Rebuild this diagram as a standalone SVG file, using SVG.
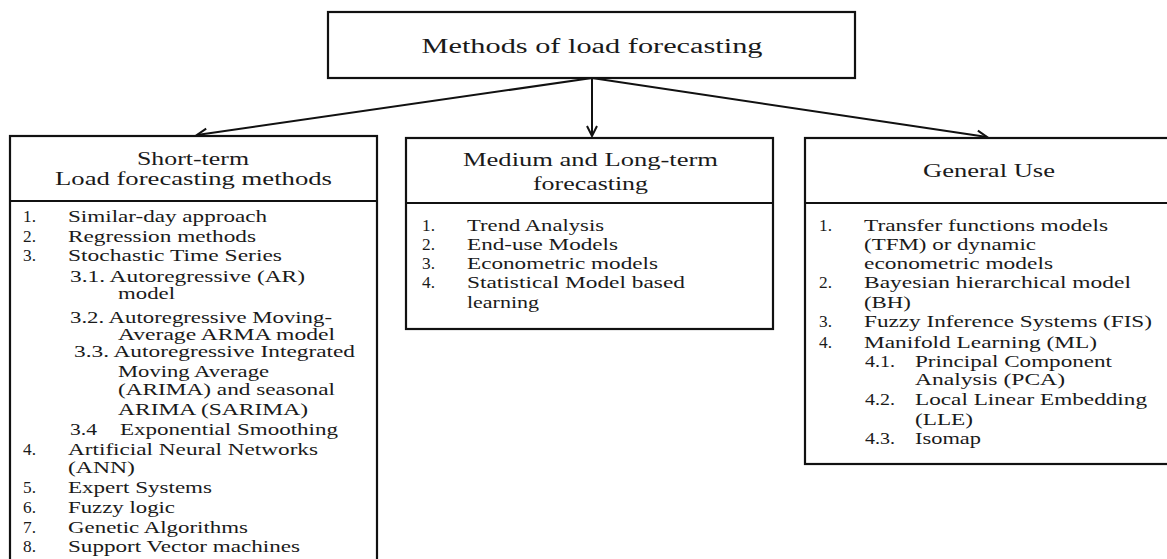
<svg xmlns="http://www.w3.org/2000/svg" width="1167" height="559" viewBox="0 0 1167 559">
<style>
.box{fill:#fff;stroke:#111;stroke-width:2.2}
.sep{stroke:#111;stroke-width:2.2}
.t{font-family:"Liberation Serif","Times New Roman",serif;fill:#1a1a1a}
.title{font-size:20px}
.hd{font-size:18px}
.li{font-size:16.8px}
.conn{stroke:#111;stroke-width:2;fill:none}
</style>
<defs>
<marker id="arr" markerUnits="userSpaceOnUse" markerWidth="14" markerHeight="14" viewBox="-12 -7 14 14" refX="0" refY="0" orient="auto">
<path d="M-10,-5 L0,0 L-10,5" fill="none" stroke="#111" stroke-width="2"/>
</marker>
</defs>
<rect width="1167" height="559" fill="#fff"/>

<g id="connectors">
<line class="conn" x1="592" y1="78" x2="592" y2="136" marker-end="url(#arr)"/>
<line class="conn" x1="592" y1="78" x2="197" y2="135" marker-end="url(#arr)"/>
<line class="conn" x1="592" y1="78" x2="987" y2="137" marker-end="url(#arr)"/>
</g>

<g id="root">
<rect class="box" x="328" y="12" width="527" height="66"/>
<text class="t title" x="592" y="53" text-anchor="middle" textLength="341" lengthAdjust="spacingAndGlyphs">Methods of load forecasting</text>
</g>

<g id="short-term">
<rect class="box" x="10" y="136" width="367" height="430"/>
<line class="sep" x1="10" y1="201" x2="377" y2="201"/>
<text class="t hd" x="193" y="165" text-anchor="middle" textLength="112" lengthAdjust="spacingAndGlyphs">Short-term</text>
<text class="t hd" x="193.5" y="185" text-anchor="middle" textLength="277" lengthAdjust="spacingAndGlyphs">Load forecasting methods</text>
<g class="t li">
<text x="23" y="222" textLength="13" lengthAdjust="spacingAndGlyphs">1.</text><text x="68" y="222" textLength="199" lengthAdjust="spacingAndGlyphs">Similar-day approach</text>
<text x="23" y="242" textLength="13" lengthAdjust="spacingAndGlyphs">2.</text><text x="68" y="242" textLength="188" lengthAdjust="spacingAndGlyphs">Regression methods</text>
<text x="23" y="261" textLength="13" lengthAdjust="spacingAndGlyphs">3.</text><text x="68" y="261" textLength="214" lengthAdjust="spacingAndGlyphs">Stochastic Time Series</text>
<text x="70" y="282" textLength="235" lengthAdjust="spacingAndGlyphs">3.1. Autoregressive (AR)</text>
<text x="118" y="299" textLength="57" lengthAdjust="spacingAndGlyphs">model</text>
<text x="70" y="323" textLength="262" lengthAdjust="spacingAndGlyphs">3.2. Autoregressive Moving-</text>
<text x="118" y="340" textLength="217" lengthAdjust="spacingAndGlyphs">Average ARMA model</text>
<text x="74" y="357" textLength="281" lengthAdjust="spacingAndGlyphs">3.3. Autoregressive Integrated</text>
<text x="118" y="377" textLength="151" lengthAdjust="spacingAndGlyphs">Moving Average</text>
<text x="118" y="395" textLength="217" lengthAdjust="spacingAndGlyphs">(ARIMA) and seasonal</text>
<text x="118" y="415" textLength="190" lengthAdjust="spacingAndGlyphs">ARIMA (SARIMA)</text>
<text x="70" y="435" textLength="27" lengthAdjust="spacingAndGlyphs">3.4</text><text x="120" y="435" textLength="218" lengthAdjust="spacingAndGlyphs">Exponential Smoothing</text>
<text x="23" y="455" textLength="13" lengthAdjust="spacingAndGlyphs">4.</text><text x="68" y="455" textLength="250" lengthAdjust="spacingAndGlyphs">Artificial Neural Networks</text>
<text x="68" y="473" textLength="67" lengthAdjust="spacingAndGlyphs">(ANN)</text>
<text x="23" y="493" textLength="13" lengthAdjust="spacingAndGlyphs">5.</text><text x="68" y="493" textLength="144" lengthAdjust="spacingAndGlyphs">Expert Systems</text>
<text x="23" y="513" textLength="13" lengthAdjust="spacingAndGlyphs">6.</text><text x="68" y="513" textLength="107" lengthAdjust="spacingAndGlyphs">Fuzzy logic</text>
<text x="23" y="533" textLength="13" lengthAdjust="spacingAndGlyphs">7.</text><text x="68" y="533" textLength="180" lengthAdjust="spacingAndGlyphs">Genetic Algorithms</text>
<text x="23" y="552" textLength="13" lengthAdjust="spacingAndGlyphs">8.</text><text x="68" y="552" textLength="232" lengthAdjust="spacingAndGlyphs">Support Vector machines</text>
</g>
</g>

<g id="medium-long-term">
<rect class="box" x="406" y="138" width="367" height="191"/>
<line class="sep" x1="406" y1="203" x2="773" y2="203"/>
<text class="t hd" x="590.5" y="166" text-anchor="middle" textLength="255" lengthAdjust="spacingAndGlyphs">Medium and Long-term</text>
<text class="t hd" x="590.5" y="190" text-anchor="middle" textLength="115" lengthAdjust="spacingAndGlyphs">forecasting</text>
<g class="t li">
<text x="422" y="231" textLength="13" lengthAdjust="spacingAndGlyphs">1.</text><text x="467" y="231" textLength="137" lengthAdjust="spacingAndGlyphs">Trend Analysis</text>
<text x="422" y="250" textLength="13" lengthAdjust="spacingAndGlyphs">2.</text><text x="467" y="250" textLength="151" lengthAdjust="spacingAndGlyphs">End-use Models</text>
<text x="422" y="269" textLength="13" lengthAdjust="spacingAndGlyphs">3.</text><text x="467" y="269" textLength="191" lengthAdjust="spacingAndGlyphs">Econometric models</text>
<text x="422" y="288" textLength="13" lengthAdjust="spacingAndGlyphs">4.</text><text x="467" y="288" textLength="218" lengthAdjust="spacingAndGlyphs">Statistical Model based</text>
<text x="467" y="308" textLength="72" lengthAdjust="spacingAndGlyphs">learning</text>
</g>
</g>

<g id="general-use">
<rect class="box" x="805" y="138" width="380" height="326"/>
<line class="sep" x1="805" y1="203" x2="1170" y2="203"/>
<text class="t hd" x="989" y="177" text-anchor="middle" textLength="132" lengthAdjust="spacingAndGlyphs">General Use</text>
<g class="t li">
<text x="819" y="231" textLength="13" lengthAdjust="spacingAndGlyphs">1.</text><text x="864" y="231" textLength="244" lengthAdjust="spacingAndGlyphs">Transfer functions models</text>
<text x="864" y="250" textLength="172" lengthAdjust="spacingAndGlyphs">(TFM) or dynamic</text>
<text x="864" y="269" textLength="189" lengthAdjust="spacingAndGlyphs">econometric models</text>
<text x="819" y="288" textLength="13" lengthAdjust="spacingAndGlyphs">2.</text><text x="864" y="288" textLength="267" lengthAdjust="spacingAndGlyphs">Bayesian hierarchical model</text>
<text x="864" y="308" textLength="47" lengthAdjust="spacingAndGlyphs">(BH)</text>
<text x="819" y="327" textLength="13" lengthAdjust="spacingAndGlyphs">3.</text><text x="864" y="327" textLength="288" lengthAdjust="spacingAndGlyphs">Fuzzy Inference Systems (FIS)</text>
<text x="819" y="348" textLength="13" lengthAdjust="spacingAndGlyphs">4.</text><text x="864" y="348" textLength="233" lengthAdjust="spacingAndGlyphs">Manifold Learning (ML)</text>
<text x="865" y="367" textLength="30" lengthAdjust="spacingAndGlyphs">4.1.</text><text x="915" y="367" textLength="197" lengthAdjust="spacingAndGlyphs">Principal Component</text>
<text x="915" y="385" textLength="150" lengthAdjust="spacingAndGlyphs">Analysis (PCA)</text>
<text x="865" y="405" textLength="30" lengthAdjust="spacingAndGlyphs">4.2.</text><text x="915" y="405" textLength="232" lengthAdjust="spacingAndGlyphs">Local Linear Embedding</text>
<text x="915" y="425" textLength="58" lengthAdjust="spacingAndGlyphs">(LLE)</text>
<text x="865" y="444" textLength="30" lengthAdjust="spacingAndGlyphs">4.3.</text><text x="915" y="444" textLength="66" lengthAdjust="spacingAndGlyphs">Isomap</text>
</g>
</g>
</svg>
